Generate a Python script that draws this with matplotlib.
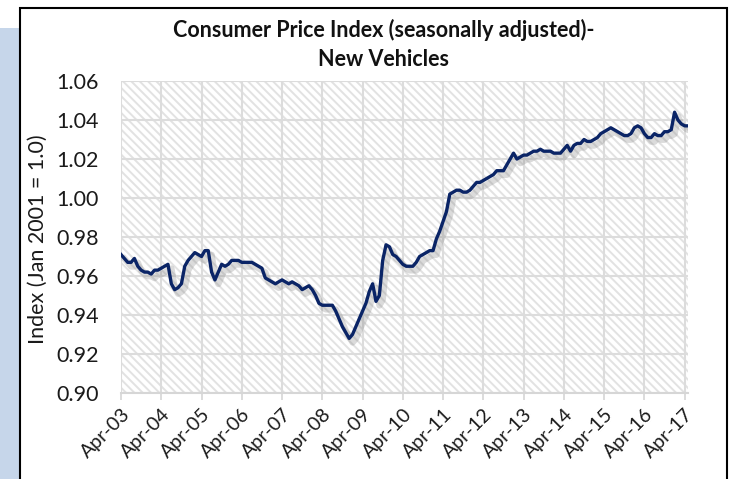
import matplotlib
matplotlib.use("Agg")
import matplotlib.pyplot as plt
import matplotlib.patheffects as pe
from matplotlib.patches import Rectangle
import numpy as np

plt.rcParams['font.family'] = ['Lato', 'DejaVu Sans']
plt.rcParams['hatch.linewidth'] = 1.4
plt.rcParams['hatch.color'] = '#e2e2e2'

# monthly CPI new vehicles index, Apr-03 .. May-17
cpi = [
    0.971, 0.969, 0.967, 0.967, 0.969, 0.965, 0.963, 0.962, 0.962, 0.961, 0.963, 0.963,  # Apr-03
    0.964, 0.965, 0.966, 0.956, 0.953, 0.954, 0.956, 0.965, 0.968, 0.970, 0.972, 0.971,  # Apr-04
    0.970, 0.973, 0.973, 0.962, 0.958, 0.962, 0.966, 0.965, 0.966, 0.968, 0.968, 0.968,  # Apr-05
    0.967, 0.967, 0.967, 0.967, 0.966, 0.965, 0.964, 0.959, 0.958, 0.957, 0.956, 0.957,  # Apr-06
    0.958, 0.957, 0.956, 0.957, 0.956, 0.955, 0.953, 0.954, 0.955, 0.953, 0.950, 0.946,  # Apr-07
    0.945, 0.945, 0.945, 0.945, 0.942, 0.938, 0.934, 0.931, 0.928, 0.930, 0.934, 0.938,  # Apr-08
    0.942, 0.946, 0.952, 0.956, 0.947, 0.950, 0.968, 0.976, 0.975, 0.971, 0.970, 0.968,  # Apr-09
    0.966, 0.965, 0.965, 0.965, 0.967, 0.970, 0.971, 0.972, 0.973, 0.973, 0.979, 0.983,  # Apr-10
    0.988, 0.993, 1.002, 1.003, 1.004, 1.004, 1.003, 1.003, 1.004, 1.006, 1.008, 1.008,  # Apr-11
    1.009, 1.010, 1.011, 1.012, 1.014, 1.014, 1.014, 1.017, 1.020, 1.023, 1.020, 1.021,  # Apr-12
    1.022, 1.022, 1.023, 1.024, 1.024, 1.025, 1.024, 1.024, 1.024, 1.023, 1.023, 1.023,  # Apr-13
    1.025, 1.027, 1.024, 1.027, 1.028, 1.028, 1.030, 1.029, 1.029, 1.030, 1.031, 1.033,  # Apr-14
    1.034, 1.035, 1.036, 1.035, 1.034, 1.033, 1.032, 1.032, 1.033, 1.036, 1.037, 1.036,  # Apr-15
    1.033, 1.031, 1.031, 1.033, 1.032, 1.032, 1.034, 1.034, 1.035, 1.044, 1.040, 1.038,  # Apr-16
    1.037, 1.037,  # Apr-17
]
years = ['03', '04', '05', '06', '07', '08', '09', '10', '11', '12', '13', '14', '15', '16', '17']
xlabels = ['Apr-' + y for y in years]
yticks = [0.90, 0.92, 0.94, 0.96, 0.98, 1.00, 1.02, 1.04, 1.06]

fig = plt.figure(figsize=(7.3, 4.79), dpi=100)
W, H = 730, 479

# left blue panel and chart frame
fig.patches.append(Rectangle((0, 0), 20 / W, 1 - 28 / H, transform=fig.transFigure,
                             facecolor='#c6d6ea', edgecolor='none', zorder=-3))
fig.patches.append(Rectangle((20 / W, -0.05), 707 / W, 1.05 - 8 / H, transform=fig.transFigure,
                             facecolor='white', edgecolor='black', linewidth=1.5, zorder=-2))

ax = fig.add_axes([121 / W, 1 - 393 / H, (688 - 121) / W, (393 - 81) / H])
ax.set_zorder(2)
ax.set_facecolor('white')
ax.add_patch(Rectangle((0, 0), 1, 1, transform=ax.transAxes, facecolor='none',
                       hatch='\\\\\\\\', edgecolor='#e2e2e2', linewidth=0, zorder=0))

x = np.arange(len(cpi))
ax.plot(x, cpi, color='#0a2466', linewidth=2.4, solid_joinstyle='round', zorder=3,
        path_effects=[pe.SimpleLineShadow(offset=(2.5, -3), shadow_color='#888888', alpha=0.3, linewidth=4.5),
                      pe.Normal()])

ax.set_xlim(0, len(cpi) - 1)
ax.set_ylim(0.90, 1.06)
ax.set_yticks(yticks)
ax.set_yticklabels(['%.2f' % v for v in yticks])
ax.set_xticks(np.arange(0, 12 * len(xlabels), 12))
ax.set_xticklabels(xlabels, rotation=45, ha='right', rotation_mode='anchor')
ax.grid(True, color='#dcdcdc', linewidth=1.5, zorder=1)
ax.set_axisbelow(True)
for s in ['left', 'top', 'right']:
    ax.spines[s].set_visible(False)
ax.spines['bottom'].set_color('#d6d6d6')
ax.spines['bottom'].set_linewidth(1.5)
ax.tick_params(axis='y', length=0, labelsize=15.5, pad=16, labelcolor='#1a1a1a')
ax.tick_params(axis='x', length=5, width=1.2, color='#d6d6d6', labelsize=14, pad=4,
               labelcolor='#1a1a1a')

fig.text(38 / W, 1 - 239 / H, 'Index (Jan 2001 = 1.0)', rotation=90, ha='center', va='center',
         fontsize=15.5, color='#1a1a1a')

fig.text(384 / W, 1 - 30 / H, 'Consumer Price Index (seasonally adjusted)-', ha='center', va='center',
         fontsize=15.5, fontweight='bold', color='#111111')
fig.text(384 / W, 1 - 60 / H, 'New Vehicles', ha='center', va='center',
         fontsize=15.5, fontweight='bold', color='#111111')

fig.savefig('out.png', dpi=100)
